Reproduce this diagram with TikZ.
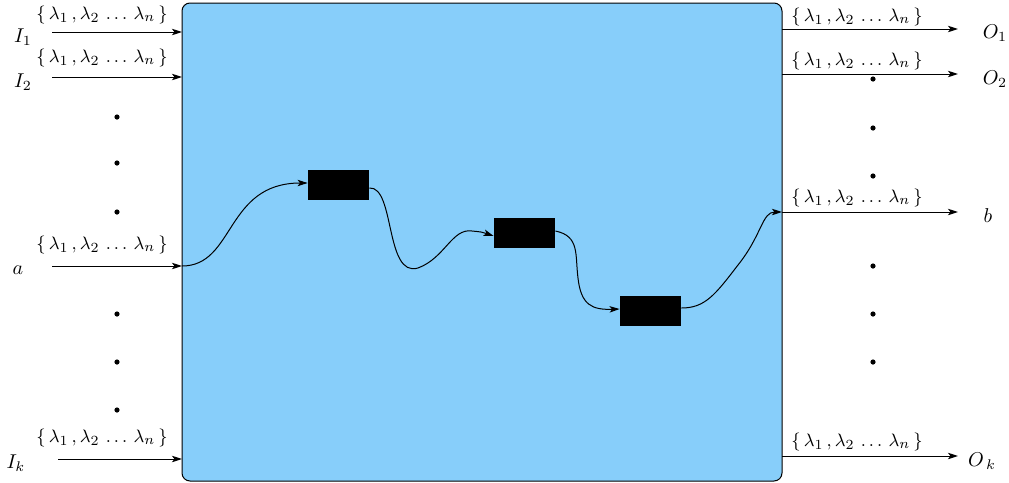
\documentclass[tikz,border=0pt]{standalone}
\usetikzlibrary{arrows.meta}
\definecolor{boxblue}{RGB}{135,206,250}
\newcommand{\lamset}{$\{\,\lambda_1\,,\lambda_2\,\ldots\,\lambda_n\,\}$}
\begin{document}
\begin{tikzpicture}[x=0.5pt,y=-0.5pt,
  arr/.style={-{Stealth[length=5pt,width=3.2pt,inset=1.2pt]},line width=0.5pt},
  blk/.style={fill=black,draw=none,minimum width=30.5pt,minimum height=15pt,inner sep=0pt},
  lam/.style={inner sep=0pt,font=\fontsize{9.4pt}{11pt}\selectfont},
  dot/.style={circle,fill=black,inner sep=0pt,minimum size=2.6pt},
  lbl/.style={inner sep=0pt}]
\useasboundingbox (0,0) rectangle (1009,483);
\node[draw=black,fill=boxblue,rounded corners=4pt,line width=0.5pt,minimum width=300pt,minimum height=239pt,inner sep=0pt] (main) at (482,242) {};
% inputs
\coordinate (i1s) at (52,32); \coordinate (i1e) at (182,32);
\coordinate (i2s) at (52,77); \coordinate (i2e) at (182,77);
\coordinate (as) at (52,266); \coordinate (ae) at (182,266);
\coordinate (iks) at (58,459); \coordinate (ike) at (182,459);
\draw[arr] (i1s) -- (i1e);
\draw[arr] (i2s) -- (i2e);
\draw[arr] (as) -- (ae);
\draw[arr] (iks) -- (ike);
\node[lbl] (I1) at (23,37) {$I_1$};
\node[lbl] (I2) at (23,82) {$I_2$};
\node[lbl] (a) at (18,270) {$a$};
\node[lbl] (Ik) at (16,463) {$I_{k}$};
\node[lam] (l1) at (102,15) {\lamset};
\node[lam] (l2) at (102,58) {\lamset};
\node[lam] (l3) at (102,245) {\lamset};
\node[lam] (l4) at (102,438) {\lamset};
\foreach \y [count=\i] in {117,163,212,314,362,410} \node[dot] (ld\i) at (117,\y) {};
% outputs
\coordinate (o1s) at (782,29); \coordinate (o1e) at (958,29);
\coordinate (o2s) at (782,74); \coordinate (o2e) at (958,74);
\coordinate (bs) at (782,212); \coordinate (be) at (958,212);
\coordinate (oks) at (782,456); \coordinate (oke) at (958,456);
\draw[arr] (o1s) -- (o1e);
\draw[arr] (o2s) -- (o2e);
\draw[arr] (bs) -- (be);
\draw[arr] (oks) -- (oke);
\node[lbl] (O1) at (995,33) {$O_1$};
\node[lbl] (O2) at (995,79) {$O_2$};
\node[lbl] (b) at (988,216) {$b$};
\node[lbl] (Ok) at (982,461) {$O_{\,k}$};
\node[lam] (r1) at (857,17) {\lamset};
\node[lam] (r2) at (857,61) {\lamset};
\node[lam] (r3) at (857,198) {\lamset};
\node[lam] (r4) at (857,442) {\lamset};
\foreach \y [count=\i] in {79,128,176,266,314,362} \node[dot] (rd\i) at (873,\y) {};
% black boxes
\node[blk] (k1) at (338.5,185) {};
\node[blk] (k2) at (524.5,233) {};
\node[blk] (k3) at (650.5,311) {};
% curves
\draw[arr] (ae) .. controls (235,266) and (225,183) .. (k1.west|-0,183);
\draw[arr] (k1.east|-0,188) .. controls (395,186) and (385,278) .. (418,268)
  .. controls (445,258) and (452,228) .. (472,231) .. controls (482,232) .. (k2.west|-0,236);
\draw[arr] (k2.east|-0,231) .. controls (580,236) and (575,255) .. (578,278)
  .. controls (581,305) and (592,310) .. (k3.west|-0,309);
\draw[arr] (k3.east|-0,308) .. controls (705,308) and (715,295) .. (738,265)
  .. controls (762,235) and (762,212) .. (bs);
\end{tikzpicture}
\end{document}
